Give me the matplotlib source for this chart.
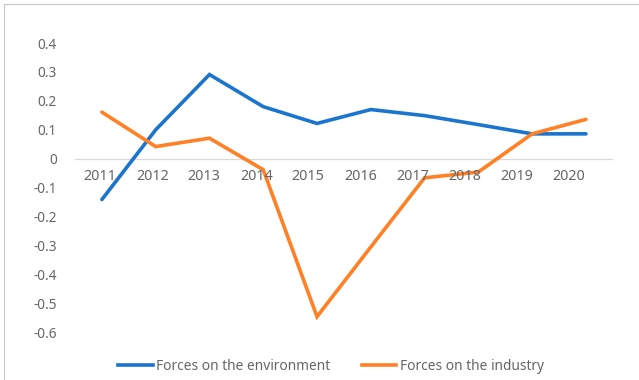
import matplotlib.pyplot as plt
from matplotlib.lines import Line2D

# Yearly forces, two series
years = ['2011', '2012', '2013', '2014', '2015', '2016', '2017', '2018', '2019', '2020']
environment = [-0.141, 0.100, 0.291, 0.180, 0.122, 0.170, 0.149, 0.118, 0.086, 0.086]
industry = [0.161, 0.042, 0.071, -0.038, -0.546, -0.305, -0.066, -0.046, 0.086, 0.136]
y_ticks = [0.4, 0.3, 0.2, 0.1, 0, -0.1, -0.2, -0.3, -0.4, -0.5, -0.6]

plt.rcParams['font.family'] = ['Noto Sans', 'DejaVu Sans']
text_color = '#666666'
grey = '#d9d9d9'

fig = plt.figure(figsize=(6.39, 3.8), dpi=100)
ax = fig.add_axes([0.1174, 0.1255, 0.8416, 0.7613])

x = list(range(len(years)))
ax.plot(x, environment, color='#1B75CF', linewidth=2.6, solid_capstyle='round',
        solid_joinstyle='miter', label='Forces on the environment', zorder=3)
ax.plot(x, industry, color='#FF8025', linewidth=2.6, solid_capstyle='round',
        solid_joinstyle='miter', label='Forces on the industry', zorder=3)

ax.set_xlim(-0.5, len(years) - 0.5)
ax.set_ylim(-0.6, 0.4)

# category axis sits at zero
ax.axhline(0, color=grey, linewidth=0.9, zorder=1)
for s in ax.spines.values():
    s.set_visible(False)

ax.set_yticks(y_ticks)
ax.set_yticklabels(['%g' % v for v in y_ticks])
ax.tick_params(axis='y', length=0, pad=13, labelsize=9.8, labelcolor=text_color)

# year labels hang just under the zero line
ax.set_xticks([])
for i, yr in enumerate(years):
    ax.annotate(yr, xy=(i * 0.967 - 0.03, 0), xycoords='data', xytext=(0, -12.5),
                textcoords='offset points', ha='center', va='center',
                fontsize=10.3, color=text_color)

handles = [Line2D([], [], color='#1B75CF', linewidth=2.6),
           Line2D([], [], color='#FF8025', linewidth=2.6)]
fig.legend(handles, ['Forces on the environment', 'Forces on the industry'],
           loc='center', bbox_to_anchor=(331 / 639, 1 - 366 / 380), ncol=2,
           frameon=False, fontsize=9.9, labelcolor=text_color,
           handlelength=2.5, handletextpad=0.25, columnspacing=2.3)

# chart border
fig.add_artist(Line2D([4 / 639, 4 / 639], [0, 1 - 4 / 380], color='#c8c8c8', linewidth=0.8))
fig.add_artist(Line2D([4 / 639, 1], [1 - 4 / 380, 1 - 4 / 380], color='#c8c8c8', linewidth=0.8))

fig.savefig('out.png', dpi=100)
